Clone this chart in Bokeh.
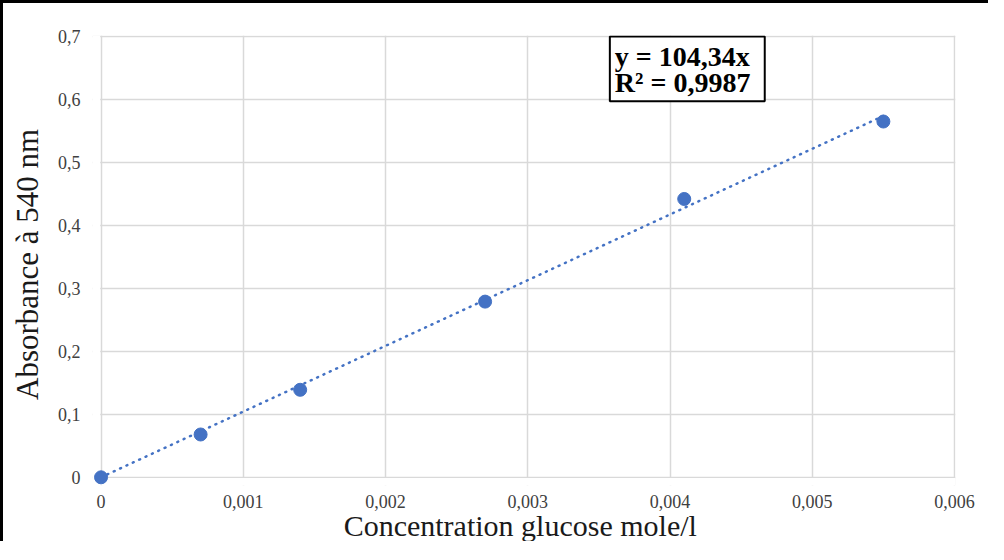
from bokeh.plotting import figure
from bokeh.models import Range1d, FixedTicker, CustomJSTickFormatter, BoxAnnotation, Label
from bokeh.embed import file_html
from bokeh.resources import INLINE

# ---- data ----
concentration = [0.0, 0.0007, 0.0014, 0.0027, 0.0041, 0.0055]
absorbance = [0.0, 0.068, 0.139, 0.279, 0.442, 0.565]
slope = 104.34
equation_lines = ["y = 104,34x", "R² = 0,9987"]

x_ticks = [0.0, 0.001, 0.002, 0.003, 0.004, 0.005, 0.006]
x_tick_labels = ["0", "0,001", "0,002", "0,003", "0,004", "0,005", "0,006"]
y_ticks = [0.0, 0.1, 0.2, 0.3, 0.4, 0.5, 0.6, 0.7]
y_tick_labels = ["0", "0,1", "0,2", "0,3", "0,4", "0,5", "0,6", "0,7"]

x_label = "Concentration  glucose mole/l"
y_label = "Absorbance  à 540 nm"

SERIF = "Liberation Serif"
BLUE = "#4472C4"
GRID = "#d9d9d9"

# small padding so the marker at the origin is not clipped
XS, XE = -0.00006, 0.006007
YS, YE = -0.013, 0.7016

p = figure(width=988, height=541, output_backend="svg", toolbar_location=None,
           x_range=Range1d(XS, XE), y_range=Range1d(YS, YE),
           min_border_left=89, min_border_right=36, min_border_top=32, min_border_bottom=57,
           background_fill_color="white", border_fill_color="white")
p.styles = {"border-left": "3px solid black", "border-top": "3px solid black"}

p.outline_line_color = None
p.xaxis.ticker = FixedTicker(ticks=x_ticks)
p.yaxis.ticker = FixedTicker(ticks=y_ticks)
code = "const i = t.findIndex(v => Math.abs(v - tick) < 1e-9); return i >= 0 ? l[i] : '';"
p.xaxis.formatter = CustomJSTickFormatter(args=dict(t=x_ticks, l=x_tick_labels), code=code)
p.yaxis.formatter = CustomJSTickFormatter(args=dict(t=y_ticks, l=y_tick_labels), code=code)

for ax in (p.xaxis, p.yaxis):
    ax.axis_line_color = None
    ax.major_tick_line_color = None
    ax.minor_tick_line_color = None
    ax.major_label_text_font = SERIF
    ax.major_label_text_font_size = "18px"
    ax.major_label_text_color = "#404040"
    ax.axis_label_text_font = SERIF
    ax.axis_label_text_font_style = "normal"
    ax.axis_label_text_color = "#1a1a1a"

p.xaxis.major_label_standoff = 3
p.yaxis.major_label_standoff = 6
p.xaxis.axis_label = x_label
p.yaxis.axis_label = y_label
p.xaxis.axis_label_text_font_size = "30px"
p.yaxis.axis_label_text_font_size = "31px"
p.xaxis.axis_label_standoff = -2
p.yaxis.axis_label_standoff = 10

p.xgrid.grid_line_color = GRID
p.ygrid.grid_line_color = GRID
p.xgrid.grid_line_width = 1.5
p.ygrid.grid_line_width = 1.5

# white covers hiding the grid stubs in the padding strips
p.add_layout(BoxAnnotation(left=XS, right=-0.000006, bottom=YS, top=YE, fill_color="white",
                           fill_alpha=1.0, line_color=None, level="underlay"))
p.add_layout(BoxAnnotation(left=XS, right=XE, bottom=YS, top=-0.0012, fill_color="white",
                           fill_alpha=1.0, line_color=None, level="underlay"))

# trend line through origin over the data range
trend_x = [0.0, max(concentration)]
trend_y = [slope * v for v in trend_x]
p.line(trend_x, trend_y, line_color=BLUE, line_width=2.5, line_dash="1 6", line_cap="round")

p.scatter(concentration, absorbance, size=13, fill_color=BLUE, line_color=BLUE)

# equation box
p.add_layout(BoxAnnotation(left=0.003577, right=0.004666, top=0.7, bottom=0.5973,
                           fill_color="white", fill_alpha=1.0, line_color="black",
                           line_alpha=1.0, line_width=2, level="overlay"))
p.add_layout(Label(x=0.003612, y=0.6684, text=equation_lines[0], text_align="left",
                   text_baseline="alphabetic", text_font=SERIF, text_font_style="bold",
                   text_font_size="28px", text_color="black", level="overlay"))
p.add_layout(Label(x=0.003612, y=0.6274, text=equation_lines[1], text_align="left",
                   text_baseline="alphabetic", text_font=SERIF, text_font_style="bold",
                   text_font_size="28px", text_color="black", level="overlay"))

open("out.html", "w").write(file_html(p, INLINE))
